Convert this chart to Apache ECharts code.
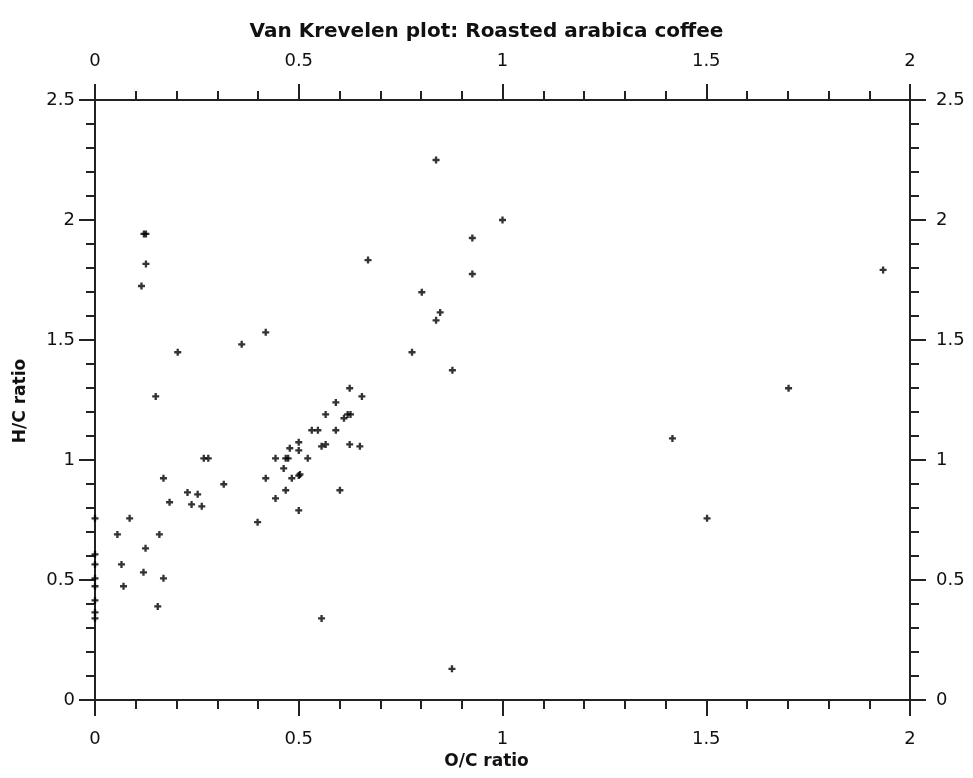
<!DOCTYPE html>
<html>
<head>
<meta charset="utf-8">
<script src="https://cdn.jsdelivr.net/npm/echarts@6/dist/echarts.min.js"></script>
<style>
html,body{margin:0;padding:0;background:#fff;}
#chart{width:973px;height:778px;}
</style>
</head>
<body>
<div id="chart"></div>
<script>
// O/C ratio (x) and H/C ratio (y)
const ocRatio = [
  0, 0, 0, 0, 0, 0, 0, 0,
  0.055, 0.065, 0.070, 0.085,
  0.114, 0.120, 0.125, 0.125,
  0.119, 0.124, 0.149, 0.154, 0.158, 0.168, 0.168,
  0.183, 0.203, 0.227, 0.237, 0.252, 0.262, 0.267, 0.278,
  0.316, 0.360, 0.399, 0.419, 0.419, 0.443, 0.443,
  0.463, 0.468, 0.468, 0.474, 0.478, 0.483,
  0.500, 0.500, 0.500, 0.503, 0.500,
  0.522, 0.532, 0.547, 0.556, 0.566, 0.566, 0.556,
  0.591, 0.591, 0.601, 0.611, 0.620, 0.627, 0.625, 0.625,
  0.650, 0.655, 0.670,
  0.778, 0.802, 0.837, 0.847, 0.837, 0.877, 0.876,
  0.926, 0.926, 1.000,
  1.417, 1.502, 1.702, 1.934
];
const hcRatio = [
  0.757, 0.607, 0.565, 0.507, 0.474, 0.415, 0.365, 0.340,
  0.690, 0.565, 0.474, 0.757,
  1.725, 1.942, 1.942, 1.817,
  0.532, 0.632, 1.265, 0.390, 0.690, 0.924, 0.507,
  0.824, 1.449, 0.865, 0.815, 0.857, 0.807, 1.007, 1.007,
  0.899, 1.482, 0.741, 1.532, 0.924, 1.007, 0.840,
  0.965, 0.874, 1.007, 1.007, 1.049, 0.924,
  1.074, 1.040, 0.935, 0.940, 0.790,
  1.007, 1.124, 1.124, 1.057, 1.065, 1.190, 0.340,
  1.240, 1.124, 0.874, 1.174, 1.190, 1.190, 1.299, 1.065,
  1.057, 1.265, 1.833,
  1.449, 1.699, 1.582, 1.615, 2.250, 1.374, 0.130,
  1.925, 1.775, 2.000,
  1.090, 0.757, 1.299, 1.792
];
const xTicks = [0, 0.5, 1, 1.5, 2];
const yTicks = [0, 0.5, 1, 1.5, 2, 2.5];
const titleText = 'Van Krevelen plot: Roasted arabica coffee';
const xName = 'O/C ratio';
const yName = 'H/C ratio';

const points = ocRatio.map((x, i) => [x, hcRatio[i]]);

const FONT = 'DejaVu Sans';
const AX = '#222';
const lineStyle = { color: AX, width: 2 };
const labelStyle = { color: '#111', fontFamily: FONT, fontSize: 18 };

function xAx(pos, margin) {
  return {
    type: 'value', position: pos,
    min: xTicks[0], max: xTicks[xTicks.length - 1], interval: 0.5,
    axisLine: { show: true, onZero: false, lineStyle },
    axisTick: { show: true, inside: false, length: 16, lineStyle },
    minorTick: { show: true, splitNumber: 5, length: 9, lineStyle },
    splitLine: { show: false }, minorSplitLine: { show: false },
    axisLabel: Object.assign({ show: true, margin }, labelStyle)
  };
}
function yAx(pos, margin) {
  return {
    type: 'value', position: pos,
    min: yTicks[0], max: yTicks[yTicks.length - 1], interval: 0.5,
    axisLine: { show: true, onZero: false, lineStyle },
    axisTick: { show: true, inside: false, length: 16, lineStyle },
    minorTick: { show: true, splitNumber: 5, length: 9, lineStyle },
    splitLine: { show: false }, minorSplitLine: { show: false },
    axisLabel: Object.assign({ show: true, margin }, labelStyle)
  };
}

const chart = echarts.init(document.getElementById('chart'), null, { renderer: 'canvas' });
chart.setOption({
  backgroundColor: '#fff',
  animation: false,
  title: {
    text: titleText, left: 'center', top: 17,
    textStyle: { fontFamily: FONT, fontWeight: 'bold', fontSize: 20, color: '#111' }
  },
  grid: { left: 95, right: 63, top: 100, bottom: 78, containLabel: false },
  xAxis: [xAx('bottom', 30), xAx('top', 30)],
  yAxis: [yAx('left', 20), yAx('right', 26)],
  graphic: [
    { type: 'text', left: 'center', top: 753,
      style: { text: xName, font: 'bold 17px "DejaVu Sans"', fill: '#111' } },
    { type: 'text', x: 21, y: 401, rotation: Math.PI / 2,
      style: { text: yName, font: 'bold 17px "DejaVu Sans"', fill: '#111', align: 'center', verticalAlign: 'middle' } }
  ],
  series: [{
    type: 'scatter', xAxisIndex: 0, yAxisIndex: 0,
    symbol: 'path://M3,0H6V3H9V6H6V9H3V6H0V3H3Z',
    symbolSize: 7,
    itemStyle: { color: '#000' },
    data: points
  }]
});
</script>
</body>
</html>
